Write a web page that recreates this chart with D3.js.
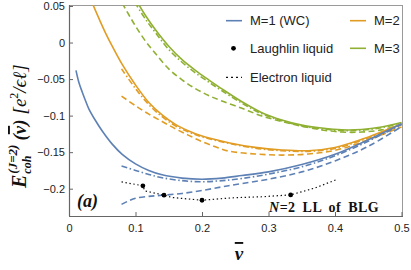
<!DOCTYPE html>
<html><head><meta charset="utf-8">
<script src="https://cdn.jsdelivr.net/npm/d3@7"></script>
<style>body{margin:0;background:#fff}svg{display:block}</style>
</head><body><svg id="c" width="411" height="270"></svg>
<script>
// ---- data ----
const nuTicks = [0, 0.1, 0.2, 0.3, 0.4, 0.5];
const nuTickLabels = ["0", "0.1", "0.2", "0.3", "0.4", "0.5"];
const eTicks = [0.05, 0, -0.05, -0.1, -0.15, -0.2];
const eTickLabels = ["0.05", "0", "\u22120.05", "\u22120.1", "\u22120.15", "\u22120.2"];

// M=1 (blue)
const m1SolidNu = [0.0105, 0.015, 0.02, 0.025, 0.03, 0.04, 0.05, 0.065, 0.08, 0.1, 0.12, 0.14, 0.17, 0.2, 0.23, 0.26, 0.3, 0.35, 0.4, 0.45, 0.5];
const m1SolidE  = [-0.038, -0.055, -0.068, -0.080, -0.091, -0.107, -0.121, -0.139, -0.153, -0.166, -0.175, -0.181, -0.1855, -0.187, -0.1855, -0.182, -0.177, -0.167, -0.153, -0.133, -0.111];
const m1DotDashNu = [0.079, 0.1, 0.12, 0.14, 0.17, 0.2, 0.23, 0.26, 0.3, 0.35, 0.4, 0.45, 0.5];
const m1DotDashE  = [-0.169, -0.175, -0.1805, -0.185, -0.189, -0.1905, -0.189, -0.186, -0.180, -0.170, -0.155, -0.135, -0.112];
const m1DashNu = [0.079, 0.09, 0.1, 0.12, 0.14, 0.17, 0.2, 0.23, 0.26, 0.3, 0.35, 0.4, 0.45, 0.5];
const m1DashE  = [-0.2215, -0.2165, -0.213, -0.2105, -0.209, -0.2065, -0.2025, -0.1975, -0.193, -0.187, -0.177, -0.162, -0.142, -0.115];

// M=2 (orange)
const m2SolidNu = [0.035, 0.045, 0.055, 0.065, 0.08, 0.1, 0.12, 0.14, 0.16, 0.18, 0.2, 0.24, 0.28, 0.32, 0.36, 0.4, 0.44, 0.5];
const m2SolidE  = [0.054, 0.033, 0.013, -0.005, -0.030, -0.058, -0.082, -0.099, -0.112, -0.121, -0.128, -0.137, -0.1435, -0.147, -0.148, -0.1435, -0.1325, -0.111];
const m2DotDashNu = [0.079, 0.1, 0.12, 0.14, 0.16, 0.18, 0.2, 0.24, 0.28, 0.32, 0.36, 0.4, 0.44, 0.5];
const m2DotDashE  = [-0.036, -0.063, -0.085, -0.1015, -0.114, -0.1225, -0.129, -0.138, -0.1445, -0.148, -0.149, -0.145, -0.134, -0.113];
const m2DashNu = [0.079, 0.1, 0.12, 0.14, 0.16, 0.18, 0.2, 0.22, 0.24, 0.28, 0.32, 0.36, 0.4, 0.44, 0.5];
const m2DashE  = [-0.0733, -0.0865, -0.098, -0.108, -0.118, -0.127, -0.1355, -0.1425, -0.1485, -0.1525, -0.154, -0.1525, -0.1475, -0.1365, -0.1155];

// M=3 (green)
const m3SolidNu = [0.103, 0.115, 0.13, 0.15, 0.17, 0.19, 0.21, 0.23, 0.26, 0.29, 0.32, 0.35, 0.38, 0.41, 0.44, 0.47, 0.5];
const m3SolidE  = [0.055, 0.037, 0.0175, -0.005, -0.0235, -0.038, -0.051, -0.0635, -0.081, -0.096, -0.106, -0.113, -0.117, -0.1195, -0.119, -0.1155, -0.1095];
const m3DotDashNu = [0.099, 0.115, 0.13, 0.15, 0.17, 0.19, 0.21, 0.23, 0.26, 0.29, 0.32, 0.35, 0.38, 0.41, 0.44, 0.47, 0.5];
const m3DotDashE  = [0.055, 0.032, 0.0135, -0.0095, -0.027, -0.0415, -0.054, -0.066, -0.083, -0.0975, -0.107, -0.114, -0.118, -0.1205, -0.120, -0.1165, -0.110];
const m3DashNu = [0.080, 0.09, 0.1, 0.115, 0.13, 0.15, 0.17, 0.19, 0.21, 0.23, 0.26, 0.29, 0.32, 0.35, 0.38, 0.41, 0.44, 0.47, 0.5];
const m3DashE  = [0.054, 0.038, 0.0225, 0.002, -0.015, -0.036, -0.051, -0.063, -0.0725, -0.080, -0.090, -0.1005, -0.108, -0.1145, -0.1195, -0.1225, -0.1225, -0.1195, -0.1125];

// Laughlin liquid points and electron liquid (dotted)
const laughlinNu = [1/9, 1/7, 1/5, 1/3];
const laughlinE  = [-0.196, -0.2088, -0.2158, -0.2085];
const electronNu = [0.079, 0.111, 0.114, 0.1429, 0.155, 0.2, 0.245, 0.29, 0.3333, 0.37, 0.4025];
const electronE  = [-0.1906, -0.196, -0.203, -0.2088, -0.212, -0.2158, -0.2125, -0.211, -0.2085, -0.199, -0.1875];

const legendLabels = ["M=1 (WC)", "M=2", "Laughlin liquid", "M=3", "Electron liquid"];
const colors = {m1: "#5E81B5", m2: "#E19C24", m3: "#8FB032"};

// ---- layout ----
const svg = d3.select("#c");
const L = 69, T = 5, R = 403, B = 216;
const x = d3.scaleLinear().domain([0, 0.5]).range([69, 401.5]);
const y = d3.scaleLinear().domain([-0.2, 0.05]).range([188.7, 6]);

svg.append("defs").append("clipPath").attr("id", "clip")
  .append("rect").attr("x", L).attr("y", T).attr("width", R - L).attr("height", B - T);

// frame
svg.append("line").attr("x1", L).attr("x2", R).attr("y1", T + 0.5).attr("y2", T + 0.5).attr("stroke", "#9a9a9a").attr("stroke-width", 1);
svg.append("line").attr("x1", R - 0.5).attr("x2", R - 0.5).attr("y1", T).attr("y2", B).attr("stroke", "#9a9a9a").attr("stroke-width", 1);

const xAxis = svg.append("g").attr("transform", `translate(0,${B})`)
  .call(d3.axisBottom(x).tickValues(nuTicks).tickSize(-4).tickFormat((d, i) => nuTickLabels[i]).tickPadding(8));
const yAxis = svg.append("g").attr("transform", `translate(${L},0)`)
  .call(d3.axisLeft(y).tickValues(eTicks).tickSize(-4).tickFormat((d, i) => eTickLabels[i]).tickPadding(4));
[xAxis, yAxis].forEach(a => {
  a.select(".domain").attr("stroke", "#666").attr("stroke-width", 1.2);
  a.selectAll(".tick line").attr("stroke", "#666");
  a.selectAll(".tick text").attr("fill", "#222").style("font-family", "Liberation Sans, Arial, sans-serif").style("font-size", "11px");
});
xAxis.select(".domain").attr("d", `M${L},0.5H${R}`);
yAxis.select(".domain").attr("d", `M0.5,${B}V${T}`);

const plot = svg.append("g").attr("clip-path", "url(#clip)");
const line = d3.line().x(d => x(d[0])).y(d => y(d[1])).curve(d3.curveCatmullRom.alpha(0.5));
const zip = (a, b) => a.map((v, i) => [v, b[i]]);

const series = [
  {nu: m3DashNu, e: m3DashE, c: colors.m3, dash: "6,3.5"},
  {nu: m3DotDashNu, e: m3DotDashE, c: colors.m3, dash: "6,2.5,1.5,2.5"},
  {nu: m3SolidNu, e: m3SolidE, c: colors.m3, dash: null},
  {nu: m2DashNu, e: m2DashE, c: colors.m2, dash: "6,3.5"},
  {nu: m2DotDashNu, e: m2DotDashE, c: colors.m2, dash: "6,2.5,1.5,2.5"},
  {nu: m2SolidNu, e: m2SolidE, c: colors.m2, dash: null},
  {nu: m1DashNu, e: m1DashE, c: colors.m1, dash: "6,3.5"},
  {nu: m1DotDashNu, e: m1DotDashE, c: colors.m1, dash: "6,2.5,1.5,2.5"},
  {nu: m1SolidNu, e: m1SolidE, c: colors.m1, dash: null}
];
series.forEach(s => {
  plot.append("path").datum(zip(s.nu, s.e)).attr("d", line)
    .attr("fill", "none").attr("stroke", s.c).attr("stroke-width", 1.6)
    .attr("stroke-dasharray", s.dash);
});

plot.append("path").datum(zip(electronNu, electronE))
  .attr("d", d3.line().x(d => x(d[0])).y(d => y(d[1])))
  .attr("fill", "none").attr("stroke", "#111").attr("stroke-width", 1.2).attr("stroke-dasharray", "1.4,2.6");
plot.selectAll("circle.l").data(zip(laughlinNu, laughlinE)).enter().append("circle")
  .attr("cx", d => x(d[0])).attr("cy", d => y(d[1])).attr("r", 2.4).attr("fill", "#000");

// legend
const lg = svg.append("g").style("font-family", "Liberation Sans, Arial, sans-serif").style("font-size", "13px").attr("fill", "#222");
const legendItems = [
  {lx: 226, ly: 20.7, type: "line", c: colors.m1, label: legendLabels[0]},
  {lx: 350, ly: 20.7, type: "line", c: colors.m2, label: legendLabels[1]},
  {lx: 226, ly: 48.3, type: "dot", c: "#000", label: legendLabels[2]},
  {lx: 350, ly: 48.3, type: "line", c: colors.m3, label: legendLabels[3]},
  {lx: 226, ly: 77.3, type: "dotted", c: "#111", label: legendLabels[4]}
];
legendItems.forEach(it => {
  if (it.type === "line") lg.append("line").attr("x1", it.lx).attr("x2", it.lx + 16).attr("y1", it.ly).attr("y2", it.ly).attr("stroke", it.c).attr("stroke-width", 1.6);
  else if (it.type === "dot") lg.append("circle").attr("cx", it.lx + 7.5).attr("cy", it.ly).attr("r", 2.4).attr("fill", it.c);
  else lg.append("line").attr("x1", it.lx).attr("x2", it.lx + 16).attr("y1", it.ly).attr("y2", it.ly).attr("stroke", it.c).attr("stroke-width", 1.2).attr("stroke-dasharray", "2,3");
  lg.append("text").attr("x", it.lx + 24).attr("y", it.ly + 4.6).text(it.label);
});

// annotations
svg.append("text").attr("x", 77).attr("y", 207).style("font-family", "Liberation Serif, serif")
  .style("font-style", "italic").style("font-weight", "bold").style("font-size", "18px").attr("fill", "#111").text("(a)");
const nl = svg.append("text").attr("x", 269).attr("y", 212)
  .style("font-family", "Liberation Serif, serif").style("font-weight", "bold").style("font-size", "14px")
  .style("letter-spacing", "0.5px").style("word-spacing", "3px").attr("fill", "#111");
nl.append("tspan").style("font-style", "italic").text("N");
nl.append("tspan").text("=2 LL of BLG");

// x label
svg.append("text").attr("x", 239).attr("y", 260).attr("text-anchor", "middle")
  .style("font-family", "Liberation Serif, serif").style("font-style", "italic").style("font-weight", "bold").style("font-size", "19px")
  .style("text-decoration", "overline").attr("fill", "#111").text("\u03BD");

// y label
const yl = svg.append("g").attr("transform", "translate(26,188) rotate(-90)")
  .style("font-family", "Liberation Serif, serif").style("font-style", "italic").attr("fill", "#111");
const tE = yl.append("text").attr("x", 0).attr("y", 0).style("font-weight", "bold").style("font-size", "20px").text("E");
let cx = tE.node().getComputedTextLength();
const tSup = yl.append("text").attr("x", cx + 1).attr("y", -9).style("font-weight", "bold").style("font-size", "13px").text("(J=2)");
const tSub = yl.append("text").attr("x", cx + 1).attr("y", 5).style("font-weight", "bold").style("font-size", "12px").text("coh");
cx += 1 + Math.max(tSup.node().getComputedTextLength(), tSub.node().getComputedTextLength()) + 4;
const tNu = yl.append("text").attr("x", cx).attr("y", 0).style("font-weight", "bold").style("font-size", "19px");
tNu.append("tspan").text("(");
tNu.append("tspan").style("text-decoration", "overline").text("\u03BD");
tNu.append("tspan").text(")");
cx += tNu.node().getComputedTextLength() + 5;
const tU = yl.append("text").attr("x", cx).attr("y", 0).style("font-size", "19px");
tU.append("tspan").text("[e");
tU.append("tspan").attr("dy", -8).style("font-size", "12px").style("font-style", "normal").text("2");
tU.append("tspan").attr("dy", 8).text("/\u03F5\u2113]");
</script></body></html>
